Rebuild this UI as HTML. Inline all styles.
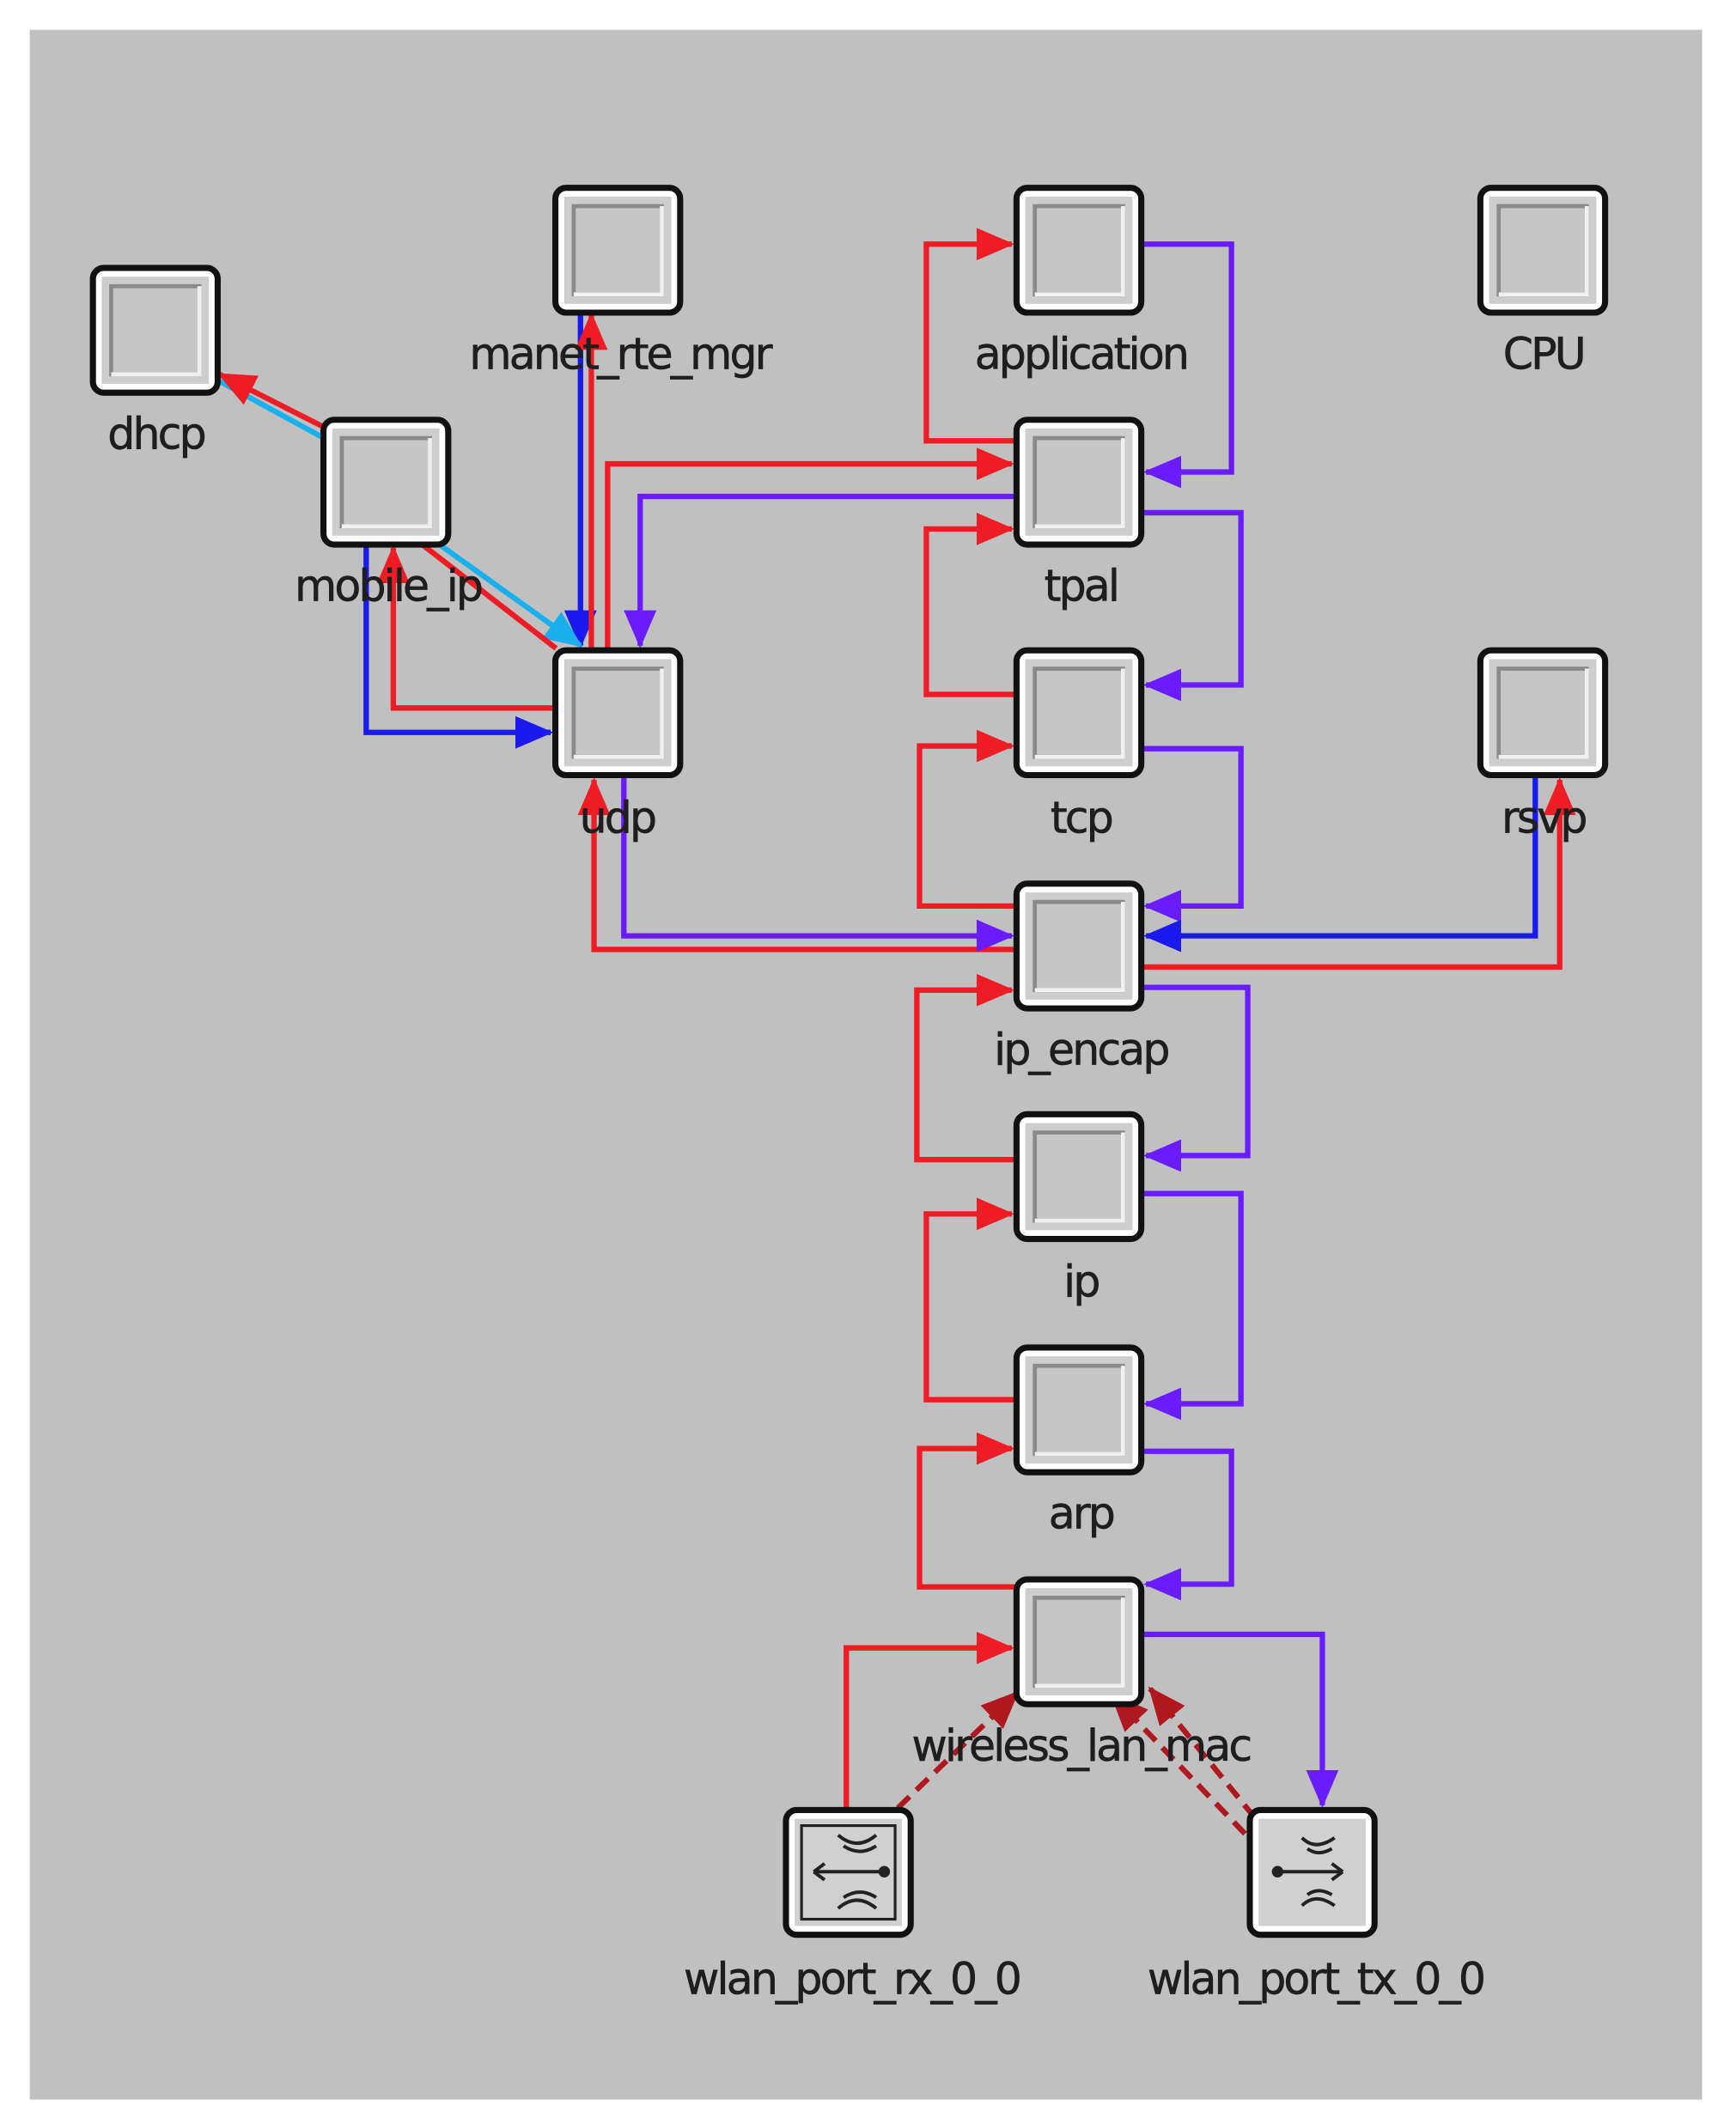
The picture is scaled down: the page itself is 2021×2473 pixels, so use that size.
<!DOCTYPE html>
<html><head><meta charset="utf-8"><style>
html,body{margin:0;padding:0;background:#fff;}
svg{display:block;}
text{font-family:"DejaVu Sans","Liberation Sans",sans-serif;font-size:32px;fill:#1e1e1e;text-anchor:middle;letter-spacing:-1.8px;stroke:#1e1e1e;stroke-width:0.4px;}
</style></head><body>
<svg width="2021" height="2473" viewBox="0 0 1280 1566" preserveAspectRatio="none" xmlns="http://www.w3.org/2000/svg">
<defs>
<marker id="ar" markerUnits="userSpaceOnUse" markerWidth="28" markerHeight="24" refX="26" refY="12" orient="auto"><path d="M0,0 L28,12 L0,24 Z" fill="#ee1c24"/></marker>
<marker id="ap" markerUnits="userSpaceOnUse" markerWidth="28" markerHeight="24" refX="26" refY="12" orient="auto"><path d="M0,0 L28,12 L0,24 Z" fill="#6a1cff"/></marker>
<marker id="ab" markerUnits="userSpaceOnUse" markerWidth="28" markerHeight="24" refX="26" refY="12" orient="auto"><path d="M0,0 L28,12 L0,24 Z" fill="#1a1aee"/></marker>
<marker id="ac" markerUnits="userSpaceOnUse" markerWidth="28" markerHeight="24" refX="26" refY="12" orient="auto"><path d="M0,0 L28,12 L0,24 Z" fill="#1ab0ee"/></marker>
<marker id="ad" markerUnits="userSpaceOnUse" markerWidth="28" markerHeight="24" refX="26" refY="12" orient="auto"><path d="M0,0 L28,12 L0,24 Z" fill="#b01820"/></marker>
<g id="node">
<rect x="1.5" y="1.5" width="92" height="92" rx="8" fill="#ffffff" stroke="#111" stroke-width="4.5"/>
<rect x="8" y="8" width="79" height="79" fill="#cdcdcd"/>
<rect x="15" y="15" width="65" height="65" fill="#c6c6c6" stroke="#8a8a8a" stroke-width="3"/>
<path d="M15,80 H80 V15" fill="none" stroke="#f0f0f0" stroke-width="3"/>
</g>
</defs>
<rect x="22" y="22" width="1233" height="1526" fill="#c0c0c0"/>
<g fill="none" stroke-width="4" stroke-linejoin="miter">
<polyline points="748,325 683,325 683,180 746,180" stroke="#ee1c24" marker-end="url(#ar)"/>
<polyline points="843,180 908,180 908,348 845,348" stroke="#6a1cff" marker-end="url(#ap)"/>
<polyline points="748,512 683,512 683,390 746,390" stroke="#ee1c24" marker-end="url(#ar)"/>
<polyline points="843,378 915,378 915,505 845,505" stroke="#6a1cff" marker-end="url(#ap)"/>
<polyline points="748,668 678,668 678,550 746,550" stroke="#ee1c24" marker-end="url(#ar)"/>
<polyline points="843,552 915,552 915,668 845,668" stroke="#6a1cff" marker-end="url(#ap)"/>
<polyline points="748,855 676,855 676,730 746,730" stroke="#ee1c24" marker-end="url(#ar)"/>
<polyline points="843,728 920,728 920,852 845,852" stroke="#6a1cff" marker-end="url(#ap)"/>
<polyline points="748,1032 683,1032 683,895 746,895" stroke="#ee1c24" marker-end="url(#ar)"/>
<polyline points="843,880 915,880 915,1035 845,1035" stroke="#6a1cff" marker-end="url(#ap)"/>
<polyline points="748,1170 678,1170 678,1068 746,1068" stroke="#ee1c24" marker-end="url(#ar)"/>
<polyline points="843,1070 908,1070 908,1168 845,1168" stroke="#6a1cff" marker-end="url(#ap)"/>
<polyline points="624,1333 624,1215 746,1215" stroke="#ee1c24" marker-end="url(#ar)"/>
<polyline points="843,1205 975,1205 975,1331" stroke="#6a1cff" marker-end="url(#ap)"/>
<line x1="662" y1="1333" x2="750" y2="1248" stroke="#b01820" stroke-dasharray="12,7" marker-end="url(#ad)"/>
<line x1="918" y1="1352" x2="820" y2="1250" stroke="#b01820" stroke-dasharray="12,7" marker-end="url(#ad)"/>
<line x1="925" y1="1340" x2="848" y2="1245" stroke="#b01820" stroke-dasharray="12,7" marker-end="url(#ad)"/>
<polyline points="448,478 448,342 746,342" stroke="#ee1c24" marker-end="url(#ar)"/>
<polyline points="748,366 472,366 472,476" stroke="#6a1cff" marker-end="url(#ap)"/>
<polyline points="748,700 438,700 438,575" stroke="#ee1c24" marker-end="url(#ar)"/>
<polyline points="460,573 460,690 746,690" stroke="#6a1cff" marker-end="url(#ap)"/>
<line x1="428" y1="230" x2="428" y2="476" stroke="#1a1aee" marker-end="url(#ab)"/>
<line x1="436" y1="478" x2="436" y2="232" stroke="#ee1c24" marker-end="url(#ar)"/>
<line x1="160" y1="280" x2="237" y2="322" stroke="#1ab0ee"/>
<line x1="237" y1="314" x2="162" y2="276" stroke="#ee1c24" marker-end="url(#ar)"/>
<line x1="322" y1="400" x2="428" y2="476" stroke="#1ab0ee" marker-end="url(#ac)"/>
<line x1="410" y1="478" x2="312" y2="402" stroke="#ee1c24"/>
<polyline points="408,522 290,522 290,404" stroke="#ee1c24" marker-end="url(#ar)"/>
<polyline points="270,402 270,540 406,540" stroke="#1a1aee" marker-end="url(#ab)"/>
<polyline points="1132,573 1132,690 845,690" stroke="#1a1aee" marker-end="url(#ab)"/>
<polyline points="843,713 1150,713 1150,575" stroke="#ee1c24" marker-end="url(#ar)"/>
</g>
<use href="#node" x="67" y="196"/>
<use href="#node" x="408" y="137"/>
<use href="#node" x="748" y="137"/>
<use href="#node" x="1090" y="137"/>
<use href="#node" x="237" y="308"/>
<use href="#node" x="748" y="308"/>
<use href="#node" x="408" y="478"/>
<use href="#node" x="748" y="478"/>
<use href="#node" x="1090" y="478"/>
<use href="#node" x="748" y="650"/>
<use href="#node" x="748" y="820"/>
<use href="#node" x="748" y="992"/>
<use href="#node" x="748" y="1163"/>
<g transform="translate(578,1333)">
<rect x="1.5" y="1.5" width="92" height="92" rx="8" fill="#fff" stroke="#111" stroke-width="4.5"/>
<rect x="8" y="8" width="79" height="79" fill="#d0d0d0"/>
<rect x="13" y="13" width="69" height="69" fill="none" stroke="#222" stroke-width="2"/>
<g stroke="#222" stroke-width="2.5" fill="none">
<path d="M22,47 H76"/><path d="M22,47 l8,-6 M22,47 l8,6"/><circle cx="74" cy="47" r="3" fill="#222"/>
<path d="M40,20 q14,12 28,0 M44,28 q12,8 24,0 M40,74 q14,-12 28,0 M44,66 q12,-8 24,0"/>
</g></g>
<g transform="translate(920,1333)">
<rect x="1.5" y="1.5" width="92" height="92" rx="8" fill="#fff" stroke="#111" stroke-width="4.5"/>
<rect x="8" y="8" width="79" height="79" fill="#d0d0d0"/>
<g stroke="#222" stroke-width="2.5" fill="none">
<path d="M22,47 H70"/><path d="M70,47 l-8,-6 M70,47 l-8,6"/><circle cx="22" cy="47" r="3" fill="#222"/>
<path d="M40,22 q10,10 24,0 M44,30 q8,6 18,0 M40,72 q10,-10 24,0 M44,64 q8,-6 18,0"/>
</g></g>
<text x="115" y="331">dhcp</text>
<text x="457" y="272">manet_rte_mgr</text>
<text x="797" y="272">application</text>
<text x="1138" y="272">CPU</text>
<text x="286" y="443">mobile_ip</text>
<text x="797" y="443">tpal</text>
<text x="455" y="614">udp</text>
<text x="797" y="614">tcp</text>
<text x="1138" y="614">rsvp</text>
<text x="797" y="785">ip_encap</text>
<text x="797" y="956">ip</text>
<text x="797" y="1127">arp</text>
<text x="797" y="1298">wireless_lan_mac</text>
<text x="628" y="1470">wlan_port_rx_0_0</text>
<text x="970" y="1470">wlan_port_tx_0_0</text>
</svg>
</body></html>
